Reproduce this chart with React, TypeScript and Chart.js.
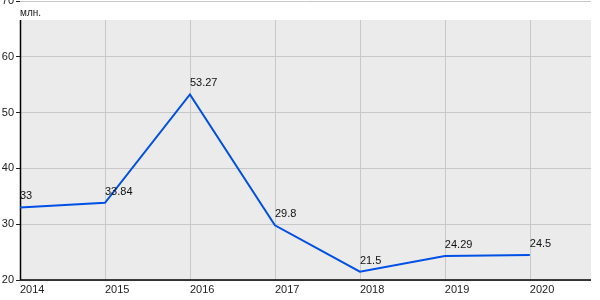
import React, { useEffect, useRef } from "react";
import { Chart, registerables } from "chart.js";

Chart.register(...registerables);

const years = [2014, 2015, 2016, 2017, 2018, 2019, 2020];
const values = [33, 33.84, 53.27, 29.8, 21.5, 24.29, 24.5];
const yTicks = [20, 30, 40, 50, 60, 70];
const unitLabel = "млн.";

const FONT = "'Liberation Sans', Arial, sans-serif";

export default function App() {
  const ref = useRef<HTMLCanvasElement | null>(null);

  useEffect(() => {
    if (!ref.current) return;
    const plugin = {
      id: "custom",
      beforeDraw(chart: any) {
        const { ctx, chartArea } = chart;
        const top = chartArea.top + 19;
        ctx.save();
        ctx.fillStyle = "#ebebeb";
        ctx.fillRect(chartArea.left, top, chartArea.right - chartArea.left, chartArea.bottom - top);
        ctx.fillStyle = "#222";
        ctx.font = `10px ${FONT}`;
        ctx.textAlign = "left";
        ctx.textBaseline = "middle";
        ctx.fillText(unitLabel, chartArea.left, chartArea.top + 12);
        ctx.restore();
      },
      beforeDatasetsDraw(chart: any) {
        const { ctx, chartArea, scales } = chart;
        const top = chartArea.top + 19;
        ctx.save();
        ctx.strokeStyle = "#c8c8c8";
        ctx.lineWidth = 1;
        years.forEach((yr, i) => {
          if (i === 0) return;
          const x = Math.round(scales.x.getPixelForValue(yr)) + 0.5;
          ctx.beginPath();
          ctx.moveTo(x, top);
          ctx.lineTo(x, chartArea.bottom);
          ctx.stroke();
        });
        ctx.strokeStyle = "#000";
        ctx.lineWidth = 1.5;
        ctx.beginPath();
        ctx.moveTo(chartArea.left + 0.5, top);
        ctx.lineTo(chartArea.left + 0.5, chartArea.bottom);
        ctx.stroke();
        ctx.lineWidth = 1.5;
        ctx.beginPath();
        ctx.moveTo(chartArea.left, chartArea.bottom);
        ctx.lineTo(chartArea.right, chartArea.bottom);
        ctx.stroke();
        ctx.restore();
      },
      afterDatasetsDraw(chart: any) {
        const { ctx } = chart;
        const meta = chart.getDatasetMeta(0);
        ctx.save();
        ctx.fillStyle = "#111";
        ctx.font = `11px ${FONT}`;
        ctx.textAlign = "left";
        ctx.textBaseline = "middle";
        meta.data.forEach((pt: any, i: number) => {
          ctx.fillText(String(values[i]), pt.x, pt.y - 11);
        });
        ctx.restore();
      },
    };

    const chart = new Chart(ref.current, {
      type: "line",
      data: {
        datasets: [
          {
            data: years.map((y, i) => ({ x: y, y: values[i] })),
            borderColor: "#0050e6",
            borderWidth: 2,
            pointRadius: 0,
            tension: 0,
            fill: false,
          },
        ],
      },
      options: {
        animation: false,
        responsive: false,
        maintainAspectRatio: false,
        layout: { padding: { top: 1, right: 9, left: 0, bottom: 0 } },
        plugins: { legend: { display: false }, tooltip: { enabled: false } },
        scales: {
          x: {
            type: "linear",
            min: 2014,
            max: 2020.72,
            afterBuildTicks: (scale: any) => {
              scale.ticks = years.map((v) => ({ value: v }));
            },
            afterFit: (scale: any) => {
              scale.height = 20;
              scale.paddingLeft = 0;
              scale.paddingRight = 0;
            },
            grid: { display: false, drawTicks: false, tickLength: 0 },
            border: { display: false },
            ticks: {
              align: "start",
              padding: 3,
              maxRotation: 0,
              color: "#222",
              font: { family: FONT, size: 11 },
              callback: (v: any) => String(v),
            },
          },
          y: {
            min: 20,
            max: 70,
            afterBuildTicks: (scale: any) => {
              scale.ticks = yTicks.map((v) => ({ value: v }));
            },
            afterFit: (scale: any) => {
              scale.width = 20;
              scale.paddingTop = 0;
              scale.paddingBottom = 0;
            },
            grid: {
              color: "#c8c8c8",
              tickColor: "#222",
              tickLength: 4,
              lineWidth: 1,
            },
            border: { display: false },
            ticks: {
              padding: 2,
              color: "#222",
              font: { family: FONT, size: 11 },
            },
          },
        },
      },
      plugins: [plugin],
    } as any);
    return () => chart.destroy();
  }, []);

  return (
    <div style={{ position: "fixed", left: 0, top: 0, width: 600, height: 300, background: "#fff" }}>
      <canvas ref={ref} width={600} height={300} style={{ width: 600, height: 300 }} />
    </div>
  );
}
